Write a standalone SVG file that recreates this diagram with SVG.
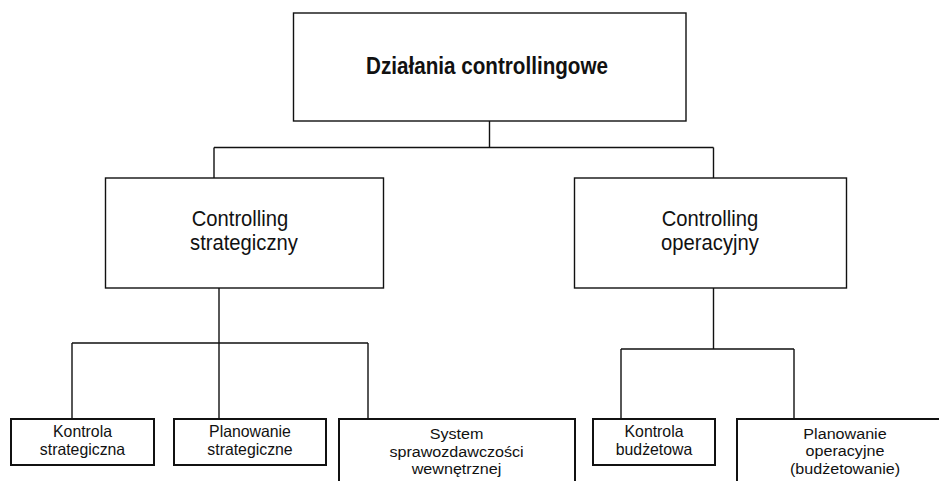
<svg xmlns="http://www.w3.org/2000/svg" width="939" height="481" viewBox="0 0 939 481">
  <style>
    .box { fill: #ffffff; stroke: #111111; stroke-width: 1.4; }
    .leaf { fill: #ffffff; stroke: #111111; stroke-width: 2; }
    .wire { fill: none; stroke: #111111; stroke-width: 1.4; }
    .t { font-family: "Liberation Sans", Arial, sans-serif; fill: #111111; text-anchor: middle; }
    .title { font-weight: bold; font-size: 23px; }
    .mid { font-size: 22px; }
    .small { font-size: 16.5px; }
    .tight { font-size: 15.5px; }
  </style>

  <rect width="939" height="481" fill="#ffffff"/>

  <!-- connectors -->
  <g id="connectors">
    <path class="wire" d="M489.5 121 V147.5 M214 147.5 H713.5 M214 147.5 V178 M713.5 147.5 V178"/>
    <path class="wire" d="M219 288 V419 M72 343 H368 M72 343 V419 M368 343 V419"/>
    <path class="wire" d="M713.5 288 V349 M621 349 H794 M621 349 V419 M794 349 V419"/>
  </g>

  <!-- root -->
  <g id="root">
    <rect class="box" x="293.5" y="13" width="392.5" height="108"/>
    <text class="t title" x="487" y="74" textLength="242" lengthAdjust="spacingAndGlyphs">Działania controllingowe</text>
  </g>

  <!-- second level (narrowed type) -->
  <g id="strategic">
    <rect class="box" x="105.5" y="178" width="278" height="110"/>
    <text class="t mid" transform="translate(240 225.5) scale(0.92 1)">Controlling</text>
    <text class="t mid" transform="translate(244 250) scale(0.92 1)">strategiczny</text>
  </g>
  <g id="operational">
    <rect class="box" x="574.5" y="178" width="272" height="110"/>
    <text class="t mid" transform="translate(710 225.5) scale(0.92 1)">Controlling</text>
    <text class="t mid" transform="translate(710 250) scale(0.92 1)">operacyjny</text>
  </g>

  <!-- leaves -->
  <g id="strategic-control">
    <rect class="leaf" x="11" y="419" width="143" height="46"/>
    <text class="t small" transform="translate(82.5 437) scale(0.96 1)">Kontrola</text>
    <text class="t small" transform="translate(82.5 455) scale(0.96 1)">strategiczna</text>
  </g>
  <g id="strategic-planning">
    <rect class="leaf" x="174" y="419" width="152" height="46"/>
    <text class="t small" transform="translate(250 437) scale(0.96 1)">Planowanie</text>
    <text class="t small" transform="translate(250 455) scale(0.96 1)">strategiczne</text>
  </g>
  <g id="reporting">
    <rect class="leaf" x="339" y="419" width="236" height="80"/>
    <text class="t tight" transform="translate(456.5 439) scale(1.04 1)">System</text>
    <text class="t tight" transform="translate(456.5 456.5) scale(1.04 1)">sprawozdawczości</text>
    <text class="t tight" transform="translate(456.5 474) scale(1.04 1)">wewnętrznej</text>
  </g>
  <g id="budget-control">
    <rect class="leaf" x="593" y="419" width="122" height="46"/>
    <text class="t small" transform="translate(654 437) scale(0.96 1)">Kontrola</text>
    <text class="t small" transform="translate(654 455) scale(0.96 1)">budżetowa</text>
  </g>
  <g id="operational-planning">
    <rect class="leaf" x="737" y="419" width="216" height="80"/>
    <text class="t tight" transform="translate(845 438.5) scale(1.04 1)">Planowanie</text>
    <text class="t tight" transform="translate(845 456) scale(1.04 1)">operacyjne</text>
    <text class="t tight" transform="translate(845 473.5) scale(1.04 1)">(budżetowanie)</text>
  </g>
</svg>
